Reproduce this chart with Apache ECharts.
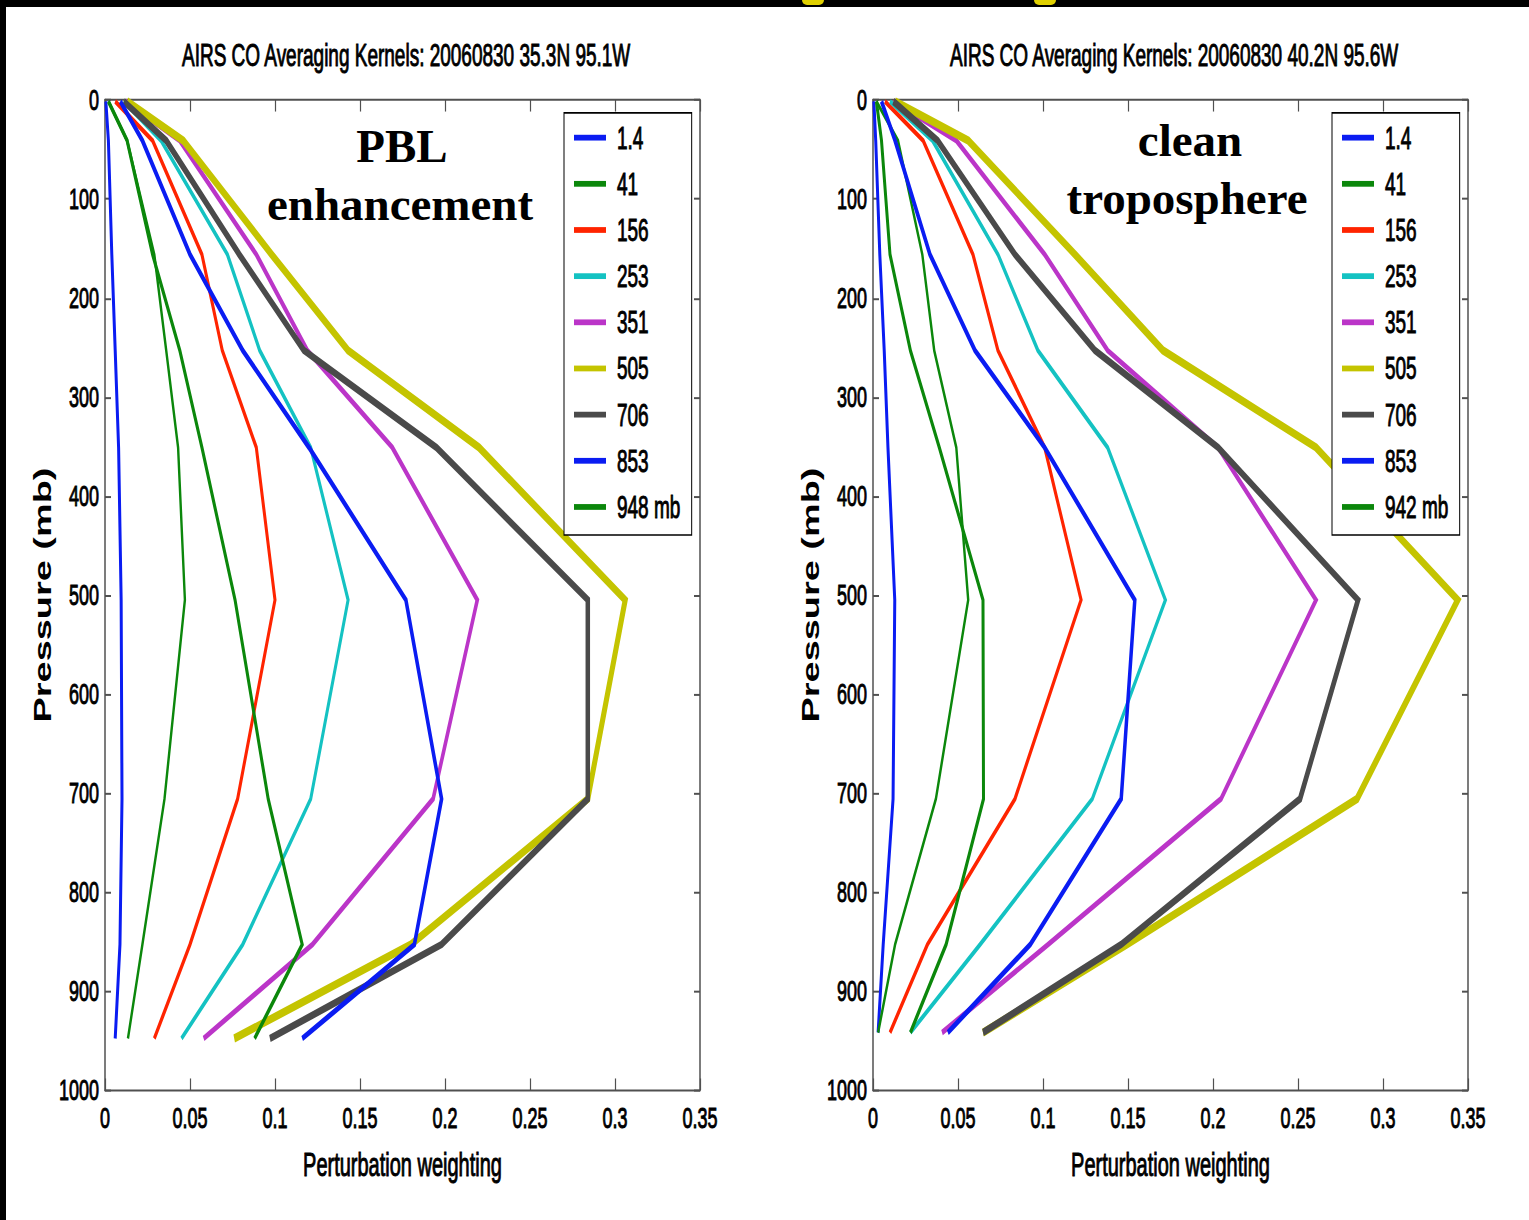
<!DOCTYPE html>
<html>
<head>
<meta charset="utf-8">
<script src="https://cdn.jsdelivr.net/npm/echarts@6/dist/echarts.min.js"></script>
<style>
html,body{margin:0;padding:0;background:#fff;overflow:hidden;width:1529px;height:1220px;}
#chart{position:absolute;left:0;top:0;width:1529px;height:740px;transform:scaleY(1.648649);transform-origin:0 0;}
.bar{position:absolute;background:#000;}
.ylw{position:absolute;background:#e0d000;border-radius:0 0 6px 6px;}
</style>
</head>
<body>
<div id="chart"></div>
<div class="bar" style="left:0;top:0;width:1529px;height:7px"></div>
<div class="bar" style="left:0;top:0;width:6px;height:1220px"></div>
<div class="ylw" style="left:802px;top:0;width:22px;height:5px"></div>
<div class="ylw" style="left:1034px;top:0;width:22px;height:5px"></div>
<script>
// ---------- data ----------
const levelsLeft  = [1.4, 41, 156, 253, 351, 505, 706, 853, 948];
const levelsRight = [1.4, 41, 156, 253, 351, 505, 706, 853, 942];
const namesLeft  = ['1.4', '41', '156', '253', '351', '505', '706', '853', '948 mb'];
const namesRight = ['1.4', '41', '156', '253', '351', '505', '706', '853', '942 mb'];
const titleLeft  = 'AIRS CO Averaging Kernels: 20060830 35.3N 95.1W';
const titleRight = 'AIRS CO Averaging Kernels: 20060830 40.2N 95.6W';
const xTickLabels = ['0', '0.05', '0.1', '0.15', '0.2', '0.25', '0.3', '0.35'];
const yTickLabels = ['0', '100', '200', '300', '400', '500', '600', '700', '800', '900', '1000'];

// left panel (35.3N 95.1W) kernels, values at levelsLeft
const L_1_4 = [0.0005, 0.002, 0.004, 0.006, 0.008, 0.0095, 0.010, 0.0088, 0.006];
const L_41  = [0.002, 0.013, 0.029, 0.036, 0.043, 0.047, 0.035, 0.022, 0.0135];
const L_156 = [0.006, 0.028, 0.057, 0.069, 0.089, 0.100, 0.078, 0.050, 0.029];
const L_253 = [0.011, 0.033, 0.072, 0.091, 0.121, 0.143, 0.121, 0.081, 0.045];
const L_351 = [0.012, 0.044, 0.089, 0.119, 0.169, 0.219, 0.193, 0.122, 0.058];
const L_505 = [0.013, 0.046, 0.098, 0.143, 0.220, 0.306, 0.284, 0.180, 0.076];
const L_706 = [0.011, 0.036, 0.079, 0.117, 0.195, 0.284, 0.284, 0.198, 0.097];
const L_853 = [0.009, 0.022, 0.050, 0.081, 0.120, 0.177, 0.198, 0.182, 0.116];
const L_948 = [0.002, 0.013, 0.028, 0.044, 0.057, 0.0765, 0.096, 0.116, 0.088];

// right panel (40.2N 95.6W) kernels, values at levelsRight
const R_1_4 = [0.0005, 0.0016, 0.004, 0.0066, 0.0088, 0.0128, 0.0118, 0.006, 0.003];
const R_41  = [0.002, 0.0147, 0.029, 0.036, 0.049, 0.056, 0.037, 0.013, 0.003];
const R_156 = [0.007, 0.0295, 0.0588, 0.0735, 0.101, 0.1224, 0.0835, 0.032, 0.010];
const R_253 = [0.010, 0.035, 0.0735, 0.097, 0.138, 0.172, 0.129, 0.063, 0.022];
const R_351 = [0.012, 0.049, 0.101, 0.138, 0.203, 0.2606, 0.2047, 0.103, 0.0406];
const R_505 = [0.013, 0.056, 0.1188, 0.1706, 0.2606, 0.344, 0.2847, 0.1494, 0.0647];
const R_706 = [0.012, 0.038, 0.0835, 0.1306, 0.203, 0.2853, 0.2512, 0.146, 0.0647];
const R_853 = [0.005, 0.013, 0.0335, 0.060, 0.101, 0.154, 0.146, 0.0925, 0.044];
const R_942 = [0.002, 0.005, 0.010, 0.022, 0.039, 0.0647, 0.065, 0.043, 0.022];

// ---------- style ----------
const colors = ['#0a1cf2', '#0b870b', '#ff2400', '#14c2c2', '#bb35c8', '#c4c400', '#4a4a4a', '#0a1cf2', '#0b870b'];
const widths = [3, 2.4, 3, 3, 3.5, 5, 4.5, 3.5, 3];
const FONT = '"Liberation Sans", Arial, Helvetica, sans-serif';
const S = 1220 / 740;           // vertical stretch of the container
const axisColor = '#505050';
const heavy = { textBorderColor: '#000', textBorderWidth: 0.6 };

const leftKernels  = [L_1_4, L_41, L_156, L_253, L_351, L_505, L_706, L_853, L_948];
const rightKernels = [R_1_4, R_41, R_156, R_253, R_351, R_505, R_706, R_853, R_942];

function makeSeries(kernels, levels, names, axisIdx) {
  return kernels.map((vals, i) => ({
    type: 'line',
    name: names[i],
    xAxisIndex: axisIdx,
    yAxisIndex: axisIdx,
    data: vals.map((v, j) => [v, levels[j]]),
    symbol: 'none',
    silent: true,
    animation: false,
    lineStyle: { color: colors[i], width: widths[i], cap: 'butt', join: 'miter' },
    itemStyle: { color: colors[i] }
  }));
}

function xAxes(grid, main) {
  return {
    gridIndex: grid, type: 'value', position: main ? 'bottom' : 'top',
    min: 0, max: 0.35, interval: 0.05,
    name: main ? 'Perturbation weighting' : '',
    nameLocation: 'middle', nameGap: 35,
    nameTextStyle: Object.assign({ fontSize: 20, color: '#000', fontFamily: FONT }, heavy),
    axisLine: { show: true, onZero: false, lineStyle: { color: axisColor, width: 1.2 } },
    axisTick: { show: true, inside: true, length: 7, lineStyle: { color: axisColor, width: 1.2 } },
    axisLabel: Object.assign({ show: main, margin: 8, fontSize: 18, color: '#000', fontFamily: FONT,
      formatter: v => xTickLabels[Math.round(v / 0.05)] }, heavy),
    splitLine: { show: false }
  };
}
function yAxes(grid, main) {
  return {
    gridIndex: grid, type: 'value', position: main ? 'left' : 'right', inverse: true,
    min: 0, max: 1000, interval: 100,
    name: main ? 'Pressure (mb)' : '',
    nameLocation: 'middle', nameGap: 50, nameRotate: 90,
    nameTextStyle: { fontSize: 23, fontWeight: 'bold', color: '#000', fontFamily: FONT },
    axisLine: { show: true, onZero: false, lineStyle: { color: axisColor, width: 1.5 } },
    axisTick: { show: true, inside: true, length: 6, lineStyle: { color: axisColor, width: 1.2 } },
    axisLabel: Object.assign({ show: main, margin: 6, fontSize: 18, color: '#000', fontFamily: FONT,
      formatter: v => yTickLabels[Math.round(v / 100)] }, heavy),
    splitLine: { show: false }
  };
}
function legendFor(names, left) {
  return {
    data: names, orient: 'vertical', left: left, top: 68.5,
    icon: 'rect', itemWidth: 32, itemHeight: 3.5, itemGap: 8,
    padding: [5, 11, 7, 10],
    borderColor: '#000', borderWidth: 1, backgroundColor: '#fff',
    selectedMode: false,
    textStyle: Object.assign({ fontSize: 19, lineHeight: 20, color: '#000', fontFamily: FONT, padding: [0, 0, 0, 6] }, heavy)
  };
}
function annot(text, x, yPx) {
  return {
    type: 'text', x: x, y: yPx / S, scaleY: 1 / S, z: 100,
    style: { text: text, fontSize: 47, fontWeight: 'bold', fontFamily: '"Liberation Serif", "Times New Roman", serif',
      fill: '#000', align: 'center', verticalAlign: 'middle' }
  };
}

const chart = echarts.init(document.getElementById('chart'), null, { renderer: 'svg' });
chart.setOption({
  backgroundColor: '#fff',
  animation: false,
  title: [
    { text: titleLeft, left: 177, top: 19, textStyle: Object.assign({ fontSize: 19, fontWeight: 'normal', color: '#000', fontFamily: FONT }, heavy) },
    { text: titleRight, left: 945, top: 19, textStyle: Object.assign({ fontSize: 19, fontWeight: 'normal', color: '#000', fontFamily: FONT }, heavy) }
  ],
  grid: [
    { left: 105, top: 100 / S, width: 595, height: 990 / S },
    { left: 873, top: 100 / S, width: 595, height: 990 / S }
  ],
  xAxis: [xAxes(0, true), xAxes(0, false), xAxes(1, true), xAxes(1, false)],
  yAxis: [yAxes(0, true), yAxes(0, false), yAxes(1, true), yAxes(1, false)],
  legend: [legendFor(namesLeft, 564), legendFor(namesRight, 1332)],
  series: makeSeries(leftKernels, levelsLeft, namesLeft, 0)
    .concat(makeSeries(rightKernels, levelsRight, namesRight, 2)),
  graphic: [
    annot('PBL', 402, 146),
    annot('enhancement', 400, 204),
    annot('clean', 1190, 140),
    annot('troposphere', 1187, 198)
  ]
});
</script>
</body>
</html>
